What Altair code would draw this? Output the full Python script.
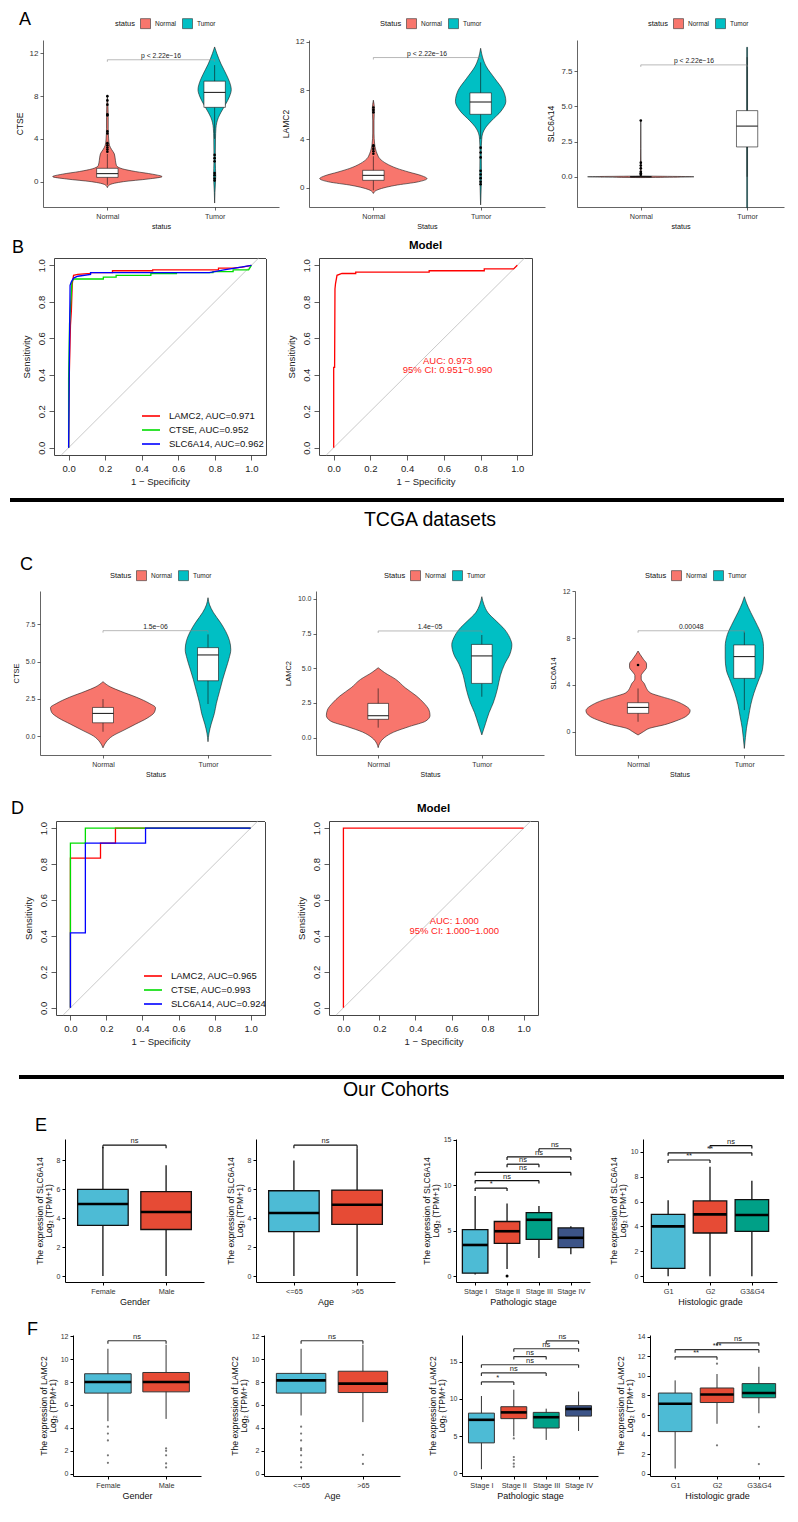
import altair as alt
import pandas as pd

FONT = "Liberation Sans"
NORMAL_COL = "#F8766D"
TUMOR_COL = "#00BFC4"
GROUP_COLS = ["#4DBBD5", "#E64B35", "#00A087", "#3C5488"]
ROC_COLS = ["#FF0000", "#00DD00", "#0000FF"]
STATUS = ["Normal", "Tumor"]
LETTERS = ["A", "B", "C", "D", "E", "F"]
SECTIONS = ["TCGA datasets", "Our Cohorts"]

# ---------------- A : GEO violins (value, half-width) ----------------
A1_N_Y = [-0.56, -0.3, 0.0, 0.25, 0.47, 0.7, 0.95, 1.2, 1.5, 2.0, 2.6, 3.0, 3.4, 4.0, 5.0, 6.0, 7.0, 8.0]
A1_N_W = [0.0, 0.02, 0.15, 0.38, 0.51, 0.42, 0.26, 0.14, 0.085, 0.075, 0.065, 0.04, 0.02, 0.012, 0.008, 0.008, 0.006, 0.0]
A1_T_Y = [-2.0, -1.0, 0.0, 0.5, 2.0, 4.0, 5.0, 6.0, 6.5, 7.2, 8.0, 8.6, 9.3, 10.0, 11.0, 12.0, 12.6]
A1_T_W = [0.0, 0.003, 0.008, 0.01, 0.006, 0.008, 0.012, 0.035, 0.06, 0.1, 0.14, 0.155, 0.14, 0.11, 0.06, 0.02, 0.0]
A1_STATS = ([-0.3, 4.0], [0.4, 6.95], [0.75, 8.35], [1.25, 9.4], [2.6, 10.9])
A1_OUT = ([2.8, 3.0, 3.2, 3.4, 3.6, 4.5, 4.7, 6.2, 6.3, 7.2, 7.6, 8.0], [2.5, 2.2, 1.9, 0.8, 0.6, 0.3, 0.1])

A2_N_Y = [-0.46, -0.2, 0.2, 0.5, 0.76, 1.0, 1.3, 1.6, 2.0, 2.4, 2.8, 3.2, 3.6, 4.5, 5.5, 6.5, 7.2]
A2_N_W = [0.0, 0.03, 0.2, 0.42, 0.5, 0.45, 0.33, 0.22, 0.12, 0.06, 0.035, 0.02, 0.012, 0.006, 0.006, 0.01, 0.0]
A2_T_Y = [-1.4, -1.0, 0.0, 1.0, 3.0, 4.0, 4.5, 5.0, 5.5, 6.3, 7.1, 8.0, 9.0, 10.0, 11.0, 11.46]
A2_T_W = [0.0, 0.002, 0.005, 0.008, 0.006, 0.01, 0.02, 0.05, 0.1, 0.19, 0.235, 0.21, 0.13, 0.05, 0.01, 0.0]
A2_STATS = ([-0.2, 4.0], [0.62, 6.04], [1.03, 7.05], [1.44, 7.8], [2.6, 10.3])
A2_OUT = ([2.8, 3.0, 3.2, 3.4, 3.5, 6.2, 6.4, 6.6], [3.3, 2.9, 2.5, 1.4, 1.1, 0.8, 0.5, 0.3])

A3_N_Y = [-0.06, 0.0, 0.06, 4.0]
A3_N_W = [0.0, 0.5, 0.004, 0.0]
A3_T_Y = [-2.2, 9.2]
A3_T_W = [0.004, 0.004]
A3_STATS = ([0.0, 0.0], [0.0, 2.12], [0.0, 3.6], [0.0, 4.7], [0.0, 8.5])
A3_OUT = ([4.0, 1.0, 0.8, 0.6, 0.35, 0.25, 0.15], [])

A_PVALS = [11.4, 10.7, 7.95]
A_PLABELS = ["p < 2.22e\u221216", "p < 2.22e\u221216", "p < 2.22e\u221216"]

# ---------------- C : TCGA violins ----------------
C1_N_Y = [-0.79, -0.4, 0.0, 0.4, 0.8, 1.2, 1.6, 1.9, 2.2, 2.6, 3.0, 3.3, 3.65]
C1_N_W = [0.0, 0.03, 0.09, 0.2, 0.31, 0.42, 0.49, 0.5, 0.44, 0.32, 0.17, 0.07, 0.0]
C1_T_Y = [-0.38, 0.2, 0.8, 1.5, 2.2, 3.0, 3.8, 4.5, 5.2, 5.8, 6.4, 7.0, 7.6, 8.3, 8.8, 9.28]
C1_T_W = [0.0, 0.01, 0.03, 0.06, 0.08, 0.11, 0.14, 0.17, 0.2, 0.217, 0.205, 0.17, 0.12, 0.05, 0.015, 0.0]
C1_STATS = ([0.29, 2.15], [0.89, 3.71], [1.52, 5.44], [1.92, 5.93], [2.48, 6.82])
C1_OUT = ([], [])

C2_N_Y = [-0.72, -0.4, 0.0, 0.4, 0.8, 1.2, 1.6, 2.0, 2.5, 3.0, 3.6, 4.2, 4.7, 5.04]
C2_N_W = [0.0, 0.015, 0.06, 0.15, 0.3, 0.46, 0.5, 0.49, 0.44, 0.37, 0.26, 0.17, 0.06, 0.0]
C2_T_Y = [0.2, 1.0, 1.8, 2.5, 3.5, 4.5, 5.3, 6.0, 6.7, 7.2, 7.8, 8.4, 9.0, 9.6, 10.16]
C2_T_W = [0.0, 0.035, 0.07, 0.11, 0.15, 0.18, 0.22, 0.27, 0.29, 0.27, 0.22, 0.14, 0.06, 0.02, 0.0]
C2_STATS = ([0.72, 2.95], [1.32, 3.91], [1.58, 5.89], [2.47, 6.72], [3.55, 7.4])
C2_OUT = ([], [])

C3_N_Y = [-0.28, 0.0, 0.3, 0.6, 0.9, 1.3, 1.8, 2.3, 2.7, 3.0, 3.3, 3.7, 4.1, 4.5, 4.8, 5.1, 5.5, 5.8, 6.2, 6.6, 6.9]
C3_N_W = [0.0, 0.05, 0.11, 0.25, 0.35, 0.45, 0.49, 0.43, 0.33, 0.22, 0.12, 0.08, 0.06, 0.03, 0.03, 0.05, 0.08, 0.08, 0.05, 0.02, 0.0]
C3_T_Y = [-1.43, -0.5, 0.3, 1.3, 2.3, 3.3, 4.3, 5.3, 6.3, 7.3, 8.3, 9.3, 10.2, 11.0, 11.54]
C3_T_W = [0.0, 0.01, 0.02, 0.04, 0.06, 0.09, 0.13, 0.17, 0.18, 0.18, 0.16, 0.11, 0.06, 0.02, 0.0]
C3_STATS = ([0.85, 1.85], [1.57, 4.56], [2.08, 6.42], [2.48, 7.42], [3.7, 8.57])
C3_OUT = ([5.7], [])

C_PVALS = [7.07, 7.69, 8.63]
C_PLABELS = ["1.5e\u221206", "1.4e\u221205", "0.00048"]

# ---------------- B / D : ROC curves ----------------
ROC_NAMES_B = ["LAMC2, AUC=0.971", "CTSE, AUC=0.952", "SLC6A14, AUC=0.962"]
B1_LAMC2_X = [0, 0.003, 0.01, 0.015, 0.02, 0.027, 0.05, 0.12, 0.12, 0.24, 0.24, 0.46, 0.46, 0.82, 0.82, 0.9, 0.95, 1.0]
B1_LAMC2_Y = [0, 0.37, 0.67, 0.75, 0.9, 0.945, 0.95, 0.955, 0.96, 0.96, 0.97, 0.97, 0.975, 0.975, 0.985, 0.985, 0.99, 1.0]
B1_CTSE_X = [0, 0, 0.005, 0.015, 0.018, 0.027, 0.19, 0.19, 0.26, 0.26, 0.45, 0.45, 0.59, 0.59, 0.79, 0.79, 0.9, 0.9, 0.985, 1.0]
B1_CTSE_Y = [0, 0.38, 0.68, 0.85, 0.91, 0.925, 0.925, 0.935, 0.935, 0.945, 0.945, 0.955, 0.955, 0.96, 0.96, 0.965, 0.965, 0.975, 0.975, 1.0]
B1_SLC_X = [0, 0.003, 0.008, 0.015, 0.027, 0.05, 0.12, 0.12, 0.77, 0.85, 0.91, 1.0]
B1_SLC_Y = [0, 0.37, 0.89, 0.91, 0.93, 0.94, 0.95, 0.96, 0.96, 0.975, 0.985, 1.0]
B2_MODEL_X = [0, 0, 0.005, 0.007, 0.01, 0.018, 0.045, 0.12, 0.12, 0.52, 0.52, 0.82, 0.82, 0.98, 1.0]
B2_MODEL_Y = [0, 0.44, 0.44, 0.87, 0.9, 0.945, 0.955, 0.955, 0.963, 0.963, 0.97, 0.97, 0.98, 0.98, 1.0]
B2_AUC = ["AUC: 0.973", "95% CI: 0.951\u22120.990"]

ROC_NAMES_D = ["LAMC2, AUC=0.965", "CTSE, AUC=0.993", "SLC6A14, AUC=0.924"]
D1_LAMC2_X = [0, 0, 0.167, 0.167, 0.25, 0.25, 1.0]
D1_LAMC2_Y = [0, 0.833, 0.833, 0.917, 0.917, 1.0, 1.0]
D1_CTSE_X = [0, 0, 0.083, 0.083, 1.0]
D1_CTSE_Y = [0, 0.917, 0.917, 1.0, 1.0]
D1_SLC_X = [0, 0, 0.083, 0.083, 0.417, 0.417, 1.0]
D1_SLC_Y = [0, 0.417, 0.417, 0.917, 0.917, 1.0, 1.0]
D2_MODEL_X = [0, 0, 1.0]
D2_MODEL_Y = [0, 1.0, 1.0]
D2_AUC = ["AUC: 1.000", "95% CI: 1.000\u22121.000"]

# ---------------- E / F : cohort boxplots ----------------
GENDER = ["Female", "Male"]
AGE = ["<=65", ">65"]
STAGE = ["Stage I", "Stage II", "Stage III", "Stage IV"]
GRADE = ["G1", "G2", "G3&G4"]
PAIRS2 = [(1, 2)]
STAGE_PAIRS = [(1, 2), (1, 3), (1, 4), (2, 3), (2, 4), (3, 4)]
GRADE_PAIRS = [(1, 2), (1, 3), (2, 3)]

E1_STATS = ([0.0, 0.0], [3.5, 3.22], [4.98, 4.43], [6.0, 5.84], [8.93, 7.66])
E2_STATS = ([0.0, 0.0], [3.07, 3.57], [4.36, 4.93], [5.9, 5.95], [8.0, 8.84])
E3_STATS = ([0.18, 0.79, 1.98, 2.41], [0.32, 3.6, 4.03, 3.13], [3.42, 4.93, 6.19, 4.21], [5.11, 6.0, 6.98, 5.29], [8.81, 7.99, 7.7, 5.47])
E4_STATS = ([0.0, 0.0, 0.0], [0.63, 3.47, 3.6], [4.0, 4.97, 4.92], [4.97, 6.05, 6.16], [6.1, 8.79, 7.68])
E1_OUT = [[], []]
E2_OUT = [[], []]
E3_OUT = [[], [0.0], [], []]
E4_OUT = [[], [], []]
E1_BR = ([9.05], ["ns"])
E2_BR = ([9.05], ["ns"])
E3_BR = ([9.68, 10.5, 11.4, 12.3, 13.1, 14.0], ["*", "ns", "ns", "ns", "ns", "ns"])
E4_BR = ([9.34, 9.92, 10.5], ["**", "**", "ns"])

F1_STATS = ([4.58, 4.78], [7.03, 7.14], [8.0, 8.0], [8.72, 8.83], [10.9, 11.25])
F2_STATS = ([5.08, 4.5], [7.03, 7.08], [8.14, 7.86], [8.75, 8.94], [10.9, 11.25])
F3_STATS = ([0.56, 5.0, 4.5, 5.7], [4.1, 7.36, 6.1, 7.7], [7.2, 8.2, 7.55, 8.66], [8.1, 8.96, 8.2, 9.1], [10.4, 11.25, 8.7, 11.0])
F4_STATS = ([0.52, 5.1, 6.18], [4.3, 7.28, 7.77], [7.15, 8.1, 8.25], [8.25, 8.77, 9.22], [9.55, 10.2, 10.94])
F1_OUT = [[4.1, 3.5, 2.9, 1.6, 0.95], [2.2, 2.0, 1.6, 0.9, 0.55]]
F2_OUT = [[4.1, 3.5, 2.9, 2.2, 2.05, 1.6, 1.0, 0.55], [1.65, 0.85]]
F3_OUT = [[], [4.7, 2.2, 1.8, 1.3, 0.9], [], []]
F4_OUT = [[], [11.26, 2.9], [4.79, 0.97]]
F1_BR = ([11.6], ["ns"])
F2_BR = ([11.6], ["ns"])
F3_BR = ([12.3, 13.5, 14.6, 15.7, 16.75, 17.8], ["*", "ns", "ns", "ns", "ns", "ns"])
F4_BR = ([11.96, 12.7, 13.4], ["**", "***", "ns"])


def ax(**kw):
    base = dict(grid=False, labelFont=FONT, titleFont=FONT, titleFontWeight="normal",
                labelColor="#333333", titleColor="#111111", tickColor="#222222",
                domainColor="#222222")
    base.update(kw)
    return alt.Axis(**base)


def violin_panel(violins, stats, outs, pval, plabel, ydom, yvals, yfmt, ytitle, stitle,
                 xdom, w, h, lx, ly, fs):
    xs = alt.Scale(domain=xdom, nice=False, zero=False)
    ys = alt.Scale(domain=ydom, nice=False, zero=False)
    xax = ax(values=[1, 2], labelExpr="datum.value == 1 ? 'Normal' : 'Tumor'", title=stitle,
             tickSize=3, labelFontSize=fs[2], titleFontSize=fs[3], domainWidth=0.7,
             tickWidth=0.7, labelPadding=2, titlePadding=3)
    yax = ax(values=yvals, format=yfmt, title=ytitle, tickSize=3, labelFontSize=fs[0],
             titleFontSize=fs[1], domainWidth=0.7, tickWidth=0.7, labelPadding=2, titlePadding=5)

    def X(f):
        return alt.X(f, scale=xs, axis=xax)

    def Y(f):
        return alt.Y(f, scale=ys, axis=yax)

    rows = []
    for st, yy, ww, c in violins:
        for yv, wv in zip(yy, ww):
            rows.append({"status": st, "y": yv, "left": c - wv, "right": c + wv})
    vdf = pd.DataFrame(rows)
    legend = alt.Legend(title=stitle, orient="none", legendX=lx, legendY=ly, direction="horizontal",
                        titleOrient="left", symbolType="square", symbolSize=100,
                        symbolStrokeColor="#333333", symbolStrokeWidth=0.6, labelFontSize=6.5,
                        titleFontSize=7.5, titleFontWeight="normal", labelOffset=4,
                        columnPadding=5, titlePadding=4, labelFont=FONT, titleFont=FONT,
                        labelColor="#222222", titleColor="#111111")
    area = alt.Chart(vdf).mark_area(orient="horizontal", interpolate="monotone", stroke="#1a1a1a",
                                    strokeWidth=0.6, opacity=1).encode(
        y=Y("y:Q"), x=X("left:Q"), x2="right:Q",
        color=alt.Color("status:N", scale=alt.Scale(domain=STATUS, range=[NORMAL_COL, TUMOR_COL]),
                        legend=legend))
    lo, q1, med, q3, hi = stats
    sdf = pd.DataFrame({"c": [1, 2], "lo": lo, "q1": q1, "med": med, "q3": q3, "hi": hi})
    sdf["bl"] = sdf["c"] - 0.1
    sdf["br"] = sdf["c"] + 0.1
    whisk = alt.Chart(sdf).mark_rule(color="#111111", strokeWidth=0.6).encode(
        x=X("c:Q"), y=Y("lo:Q"), y2="hi:Q")
    box = alt.Chart(sdf).mark_bar(fill="#FFFFFF", stroke="#111111", strokeWidth=0.6, opacity=1).encode(
        x=X("bl:Q"), x2="br:Q", y=Y("q1:Q"), y2="q3:Q")
    medl = alt.Chart(sdf).mark_rule(color="#111111", strokeWidth=1.0).encode(
        x=X("bl:Q"), x2="br:Q", y=Y("med:Q"))
    layers = [area, whisk, box, medl]
    orows = [{"c": 1, "v": v} for v in outs[0]] + [{"c": 2, "v": v} for v in outs[1]]
    if orows:
        odf = pd.DataFrame(orows)
        layers.append(alt.Chart(odf).mark_circle(size=7, color="#000000", opacity=1).encode(
            x=X("c:Q"), y=Y("v:Q")))
    d = 2.0 * (ydom[1] - ydom[0]) / h
    bdf = pd.DataFrame({"x1": [1], "x2": [2], "y": [pval], "xm": [1.5], "label": [plabel]})
    tdf = pd.DataFrame({"x": [1, 2], "y": [pval, pval], "yt": [pval - d, pval - d]})
    layers.append(alt.Chart(bdf).mark_rule(color="#8a8a8a", strokeWidth=0.6).encode(
        x=X("x1:Q"), x2="x2:Q", y=Y("y:Q")))
    layers.append(alt.Chart(tdf).mark_rule(color="#8a8a8a", strokeWidth=0.6).encode(
        x=X("x:Q"), y=Y("y:Q"), y2="yt:Q"))
    layers.append(alt.Chart(bdf).mark_text(fontSize=6.8, baseline="bottom", dy=-1, color="#222222").encode(
        x=X("xm:Q"), y=Y("y:Q"), text="label:N"))
    return alt.layer(*layers).properties(width=w, height=h)


def roc_panel(names, fprs, tprs, colors, w, h, title=None, legend_xy=None, auc_text=None, auc_x=0.62, auc_y=(0.47, 0.42)):
    xs = alt.Scale(domain=[-0.08, 1.08], nice=False, zero=False)
    ys = alt.Scale(domain=[-0.04, 1.04], nice=False, zero=False)
    common = dict(values=[0, 0.2, 0.4, 0.6, 0.8, 1.0], format=".1f", domain=False, tickSize=5,
                  tickWidth=0.8, tickColor="#333333", labelFontSize=9.5, titleFontSize=9.5,
                  labelColor="#222222", titleColor="#222222", labelPadding=3)
    xax = ax(title="1 \u2212 Specificity", titlePadding=4, **common)
    yax = ax(title="Sensitivity", labelAngle=270, labelAlign="center", labelBaseline="bottom",
             titlePadding=5, **common)

    def X(f):
        return alt.X(f, scale=xs, axis=xax)

    def Y(f):
        return alt.Y(f, scale=ys, axis=yax)

    ddf = pd.DataFrame({"x": [-0.04, 1.04], "y": [-0.04, 1.04]})
    diag = alt.Chart(ddf).mark_line(color="#BBBBBB", strokeWidth=0.8).encode(x=X("x:Q"), y=Y("y:Q"))
    rows = []
    for nm, fx, fy in zip(names, fprs, tprs):
        for i, (a, b) in enumerate(zip(fx, fy)):
            rows.append({"name": nm, "x": a, "y": b, "i": i})
    cdf = pd.DataFrame(rows)
    if legend_xy is not None:
        leg = alt.Legend(title=None, orient="none", legendX=legend_xy[0], legendY=legend_xy[1],
                         symbolType="M-1.8,0H1.8", symbolSize=100, symbolStrokeWidth=1.6,
                         labelFontSize=9.5, labelColor="#111111", labelOffset=12, rowPadding=3,
                         labelLimit=300, labelFont=FONT)
    else:
        leg = None
    curves = alt.Chart(cdf).mark_line(strokeWidth=1.3).encode(
        x=X("x:Q"), y=Y("y:Q"),
        color=alt.Color("name:N", scale=alt.Scale(domain=names, range=colors), legend=leg),
        order=alt.Order("i:Q"))
    layers = [diag, curves]
    if auc_text:
        adf = pd.DataFrame({"x": [auc_x, auc_x], "y": list(auc_y), "t": auc_text})
        layers.append(alt.Chart(adf).mark_text(color="#FF1A1A", fontSize=9.5).encode(
            x=X("x:Q"), y=Y("y:Q"), text="t:N"))
    ch = alt.layer(*layers).properties(width=w, height=h,
                                       view=alt.ViewBackground(stroke="#444444", strokeWidth=1))
    if title:
        ch = ch.properties(title=alt.TitleParams(title, fontSize=11.5, fontWeight="bold", offset=5,
                                                 anchor="middle", font=FONT, color="#000000"))
    return ch


def box_panel(cats, stats, outs, pairs, br, ydom, yvals, gene, xtitle, w, h, thin=False):
    n = len(cats)
    xs = alt.Scale(domain=[0.4, n + 0.6], nice=False, zero=False)
    ys = alt.Scale(domain=ydom, nice=False, zero=False)
    lab = "[" + ",".join("'%s'" % c for c in cats) + "][datum.value - 1]"
    xax = ax(values=list(range(1, n + 1)), labelExpr=lab, title=xtitle, tickSize=3,
             labelFontSize=7.3, titleFontSize=9, domainWidth=1, tickWidth=1,
             domainColor="#000000", tickColor="#000000", labelPadding=2, titlePadding=3)
    yax = ax(values=yvals, title=["The expression of " + gene, "Log\u2082 (TPM+1)"], tickSize=3,
             labelFontSize=7, titleFontSize=8.6, domainWidth=1, tickWidth=1,
             domainColor="#000000", tickColor="#000000", labelPadding=2, titlePadding=3,
             titleLineHeight=9)

    def X(f):
        return alt.X(f, scale=xs, axis=xax)

    def Y(f):
        return alt.Y(f, scale=ys, axis=yax)

    lo, q1, med, q3, hi = stats
    pos = list(range(1, n + 1))
    sdf = pd.DataFrame({"pos": pos, "cat": cats, "lo": lo, "q1": q1, "med": med, "q3": q3, "hi": hi})
    sdf["bl"] = sdf["pos"] - 0.4
    sdf["br"] = sdf["pos"] + 0.4
    sw = 1.0 if thin else 1.3
    scol = "#333333" if thin else "#111111"
    whisk = alt.Chart(sdf).mark_rule(color=scol, strokeWidth=sw).encode(
        x=X("pos:Q"), y=Y("lo:Q"), y2="hi:Q")
    box = alt.Chart(sdf).mark_bar(stroke=scol, strokeWidth=sw, opacity=1).encode(
        x=X("bl:Q"), x2="br:Q", y=Y("q1:Q"), y2="q3:Q",
        color=alt.Color("cat:N", scale=alt.Scale(domain=cats, range=GROUP_COLS[:n]), legend=None))
    medl = alt.Chart(sdf).mark_rule(color="#000000", strokeWidth=2.6).encode(
        x=X("bl:Q"), x2="br:Q", y=Y("med:Q"))
    layers = [whisk, box, medl]
    orows = [{"pos": k + 1, "v": v} for k, lst in enumerate(outs) for v in lst]
    if orows:
        odf = pd.DataFrame(orows)
        if thin:
            om = alt.Chart(odf).mark_circle(size=5, color="#777777", opacity=1)
        else:
            om = alt.Chart(odf).mark_circle(size=9, color="#000000", opacity=1)
        layers.append(om.encode(x=X("pos:Q"), y=Y("v:Q")))
    d = 3.0 * (ydom[1] - ydom[0]) / h
    ys_, labels = br
    bdf = pd.DataFrame({"x1": [p[0] for p in pairs], "x2": [p[1] for p in pairs], "y": ys_,
                        "xm": [(p[0] + p[1]) / 2 for p in pairs], "label": labels})
    tdf = pd.DataFrame({"x": [p[k] for p in pairs for k in (0, 1)],
                        "y": [yv for yv in ys_ for _ in (0, 1)],
                        "yt": [yv - d for yv in ys_ for _ in (0, 1)]})
    bc = "#333333" if thin else "#111111"
    layers.append(alt.Chart(bdf).mark_rule(color=bc, strokeWidth=1.2).encode(
        x=X("x1:Q"), x2="x2:Q", y=Y("y:Q")))
    layers.append(alt.Chart(tdf).mark_rule(color=bc, strokeWidth=1.2).encode(
        x=X("x:Q"), y=Y("y:Q"), y2="yt:Q"))
    layers.append(alt.Chart(bdf).mark_text(fontSize=7.5, baseline="bottom", dy=0, color="#222222").encode(
        x=X("xm:Q"), y=Y("y:Q"), text="label:N"))
    return alt.layer(*layers).properties(width=w, height=h)


def first_spacer(w, h, top, bottom, letter, lx, ly):
    df = pd.DataFrame({"t": [letter]})
    ext = alt.Chart(df).mark_rule(color="#FFFFFF", strokeWidth=1, opacity=1).encode(
        x=alt.value(0.5), y=alt.value(-top + 0.5), y2=alt.value(bottom - 0.5))
    txt = alt.Chart(df).mark_text(fontSize=18, align="left", baseline="alphabetic", color="#000000").encode(
        x=alt.value(lx), y=alt.value(ly), text="t:N")
    return alt.layer(ext, txt).properties(width=w, height=h)


def gap(w):
    df = pd.DataFrame({"t": [""]})
    return alt.Chart(df).mark_rule(color="#FFFFFF", strokeWidth=1, opacity=1).encode(
        x=alt.value(0.5), y=alt.value(0), y2=alt.value(1)).properties(width=w, height=1)


def make_row(panels, lefts, widths, P, H, rtop, rbot, letter, lxy):
    items = [first_spacer(lefts[0] - 8, H, P - rtop, rbot - P, letter, lxy[0] - 8, lxy[1] - P)]
    for k, p in enumerate(panels):
        if k > 0:
            items.append(gap(lefts[k] - (lefts[k - 1] + widths[k - 1])))
        items.append(p)
    return alt.hconcat(*items, spacing=0, bounds="flush").resolve_scale(
        color="independent", x="independent", y="independent").resolve_legend(color="independent")


SEP_W = 774


def separator(h, line_y, x1, x2, text, tx, ty):
    df = pd.DataFrame({"t": [text]})
    line = alt.Chart(df).mark_rule(color="#000000", strokeWidth=4).encode(
        x=alt.value(x1), x2=alt.value(x2), y=alt.value(line_y))
    txt = alt.Chart(df).mark_text(fontSize=19.5, align="center", baseline="alphabetic", color="#000000").encode(
        x=alt.value(tx), y=alt.value(ty), text="t:N")
    edge = alt.Chart(df).mark_rule(color="#FFFFFF", strokeWidth=1, opacity=1).encode(
        x=alt.value(0.5), y=alt.value(0.5), y2=alt.value(h - 0.5))
    return alt.layer(edge, line, txt).properties(width=SEP_W, height=h)


# ---------------- build rows ----------------
FS_A = (8, 8.5, 7.2, 7.2)
FS_C = (7, 7.5, 7, 7)

A_W = [236, 236, 207]
A_L = [41, 307, 575]
A_H = 167
a1 = violin_panel([("Normal", A1_N_Y, A1_N_W, 1), ("Tumor", A1_T_Y, A1_T_W, 2)], A1_STATS, A1_OUT,
                  A_PVALS[0], A_PLABELS[0], [-2.37, 13.25], [0, 4, 8, 12], "d", "CTSE", "status",
                  [0.4, 2.6], A_W[0], A_H, 72, -22, FS_A)
a2 = violin_panel([("Normal", A2_N_Y, A2_N_W, 1), ("Tumor", A2_T_Y, A2_T_W, 2)], A2_STATS, A2_OUT,
                  A_PVALS[1], A_PLABELS[1], [-1.57, 12.14], [0, 4, 8, 12], "d", "LAMC2", "Status",
                  [0.4, 2.6], A_W[1], A_H, 71, -22, FS_A)
a3 = violin_panel([("Normal", A3_N_Y, A3_N_W, 1), ("Tumor", A3_T_Y, A3_T_W, 2)], A3_STATS, A3_OUT,
                  A_PVALS[2], A_PLABELS[2], [-2.15, 9.72], [0, 2.5, 5, 7.5], ".1f", "SLC6A14", "status",
                  [0.4, 2.347], A_W[2], A_H, 71, -22, FS_A)
rowA = make_row([a1, a2, a3], A_L, A_W, 40, A_H, 8, 235, LETTERS[0], (17, 25))

B_W = [212, 213]
B_L = [52, 317]
B_H = 197
b1 = roc_panel(ROC_NAMES_B, [B1_LAMC2_X, B1_CTSE_X, B1_SLC_X], [B1_LAMC2_Y, B1_CTSE_Y, B1_SLC_Y],
               ROC_COLS, B_W[0], B_H, legend_xy=(91, 152))
b2 = roc_panel(["Model"], [B2_MODEL_X], [B2_MODEL_Y], ["#FF0000"], B_W[1], B_H, title="Model",
               auc_text=B2_AUC, auc_x=0.62, auc_y=(0.475, 0.425))
rowB = make_row([b1, b2], B_L, B_W, 258, B_H, 235, 496, LETTERS[1], (10, 253))

sep1 = separator(46, 4, 0, SEP_W, SECTIONS[0], 420, 30)

C_W = [231, 228, 209]
C_L = [38, 314, 573]
C_H = 164
c1 = violin_panel([("Normal", C1_N_Y, C1_N_W, 1), ("Tumor", C1_T_Y, C1_T_W, 2)], C1_STATS, C1_OUT,
                  C_PVALS[0], C_PLABELS[0], [-1.27, 9.73], [0, 2.5, 5, 7.5], ".1f", "CTSE", "Status",
                  [0.4, 2.6], C_W[0], C_H, 70, -21, FS_C)
c2 = violin_panel([("Normal", C2_N_Y, C2_N_W, 1), ("Tumor", C2_T_Y, C2_T_W, 2)], C2_STATS, C2_OUT,
                  C_PVALS[1], C_PLABELS[1], [-1.25, 10.57], [0, 2.5, 5, 7.5, 10], ".1f", "LAMC2", "Status",
                  [0.4, 2.6], C_W[1], C_H, 68, -21, FS_C)
c3 = violin_panel([("Normal", C3_N_Y, C3_N_W, 1), ("Tumor", C3_T_Y, C3_T_W, 2)], C3_STATS, C3_OUT,
                  C_PVALS[2], C_PLABELS[2], [-1.99, 12.03], [0, 4, 8, 12], "d", "SLC6A14", "Status",
                  [0.407, 2.373], C_W[2], C_H, 70, -21, FS_C)
rowC = make_row([c1, c2, c3], C_L, C_W, 591, C_H, 542, 786, LETTERS[2], (18, 570))

D_W = [209, 209]
D_L = [54, 327]
D_H = 194
d1 = roc_panel(ROC_NAMES_D, [D1_LAMC2_X, D1_CTSE_X, D1_SLC_X], [D1_LAMC2_Y, D1_CTSE_Y, D1_SLC_Y],
               ROC_COLS, D_W[0], D_H, legend_xy=(91, 149))
d2 = roc_panel(["Model"], [D2_MODEL_X], [D2_MODEL_Y], ["#FF0000"], D_W[1], D_H, title="Model",
               auc_text=D2_AUC, auc_x=0.615, auc_y=(0.482, 0.43))
rowD = make_row([d1, d2], D_L, D_W, 821, D_H, 786, 1064, LETTERS[3], (9, 814))

sep2 = separator(40, 13, 9, SEP_W, SECTIONS[1], 386, 32)

E_W = [139, 139, 134, 134]
E_L = [63, 254, 454, 641]
E_H = 143
e1 = box_panel(GENDER, E1_STATS, E1_OUT, PAIRS2, E1_BR, [-0.41, 9.48], [0, 2, 4, 6, 8], "SLC6A14", "Gender", E_W[0], E_H)
e2 = box_panel(AGE, E2_STATS, E2_OUT, PAIRS2, E2_BR, [-0.41, 9.48], [0, 2, 4, 6, 8], "SLC6A14", "Age", E_W[1], E_H)
e3 = box_panel(STAGE, E3_STATS, E3_OUT, STAGE_PAIRS, E3_BR, [-0.65, 15.07], [0, 5, 10, 15], "SLC6A14", "Pathologic stage", E_W[2], E_H)
e4 = box_panel(GRADE, E4_STATS, E4_OUT, GRADE_PAIRS, E4_BR, [-0.47, 11.03], [0, 2, 4, 6, 8, 10], "SLC6A14", "Histologic grade", E_W[3], E_H)
rowE = make_row([e1, e2, e3, e4], E_L, E_W, 1139, E_H, 1104, 1314, LETTERS[4], (33, 1131))

F_W = [128, 136, 136, 134]
F_L = [71, 262, 460, 648]
F_H = 141
f1 = box_panel(GENDER, F1_STATS, F1_OUT, PAIRS2, F1_BR, [-0.2, 12.1], [0, 2, 4, 6, 8, 10, 12], "LAMC2", "Gender", F_W[0], F_H, thin=True)
f2 = box_panel(AGE, F2_STATS, F2_OUT, PAIRS2, F2_BR, [-0.2, 12.1], [0, 2, 4, 6, 8, 10, 12], "LAMC2", "Age", F_W[1], F_H, thin=True)
f3 = box_panel(STAGE, F3_STATS, F3_OUT, STAGE_PAIRS, F3_BR, [-0.35, 18.6], [0, 5, 10, 15], "LAMC2", "Pathologic stage", F_W[2], F_H, thin=True)
f4 = box_panel(GRADE, F4_STATS, F4_OUT, GRADE_PAIRS, F4_BR, [-0.25, 14.2], [0, 2, 4, 6, 8, 10, 12, 14], "LAMC2", "Histologic grade", F_W[3], F_H, thin=True)
rowF = make_row([f1, f2, f3, f4], F_L, F_W, 1335, F_H, 1314, 1503, LETTERS[5], (25, 1335))

chart = alt.vconcat(rowA, rowB, sep1, rowC, rowD, sep2, rowE, rowF, spacing=0).resolve_scale(
    color="independent", x="independent", y="independent").resolve_legend(color="independent").properties(
    padding=0
).configure(font=FONT).configure_view(strokeWidth=0).configure_axis(
    labelFont=FONT, titleFont=FONT
).configure_legend(labelFont=FONT, titleFont=FONT)

chart.save("out.html", embed_options={"renderer": "svg", "actions": False})
